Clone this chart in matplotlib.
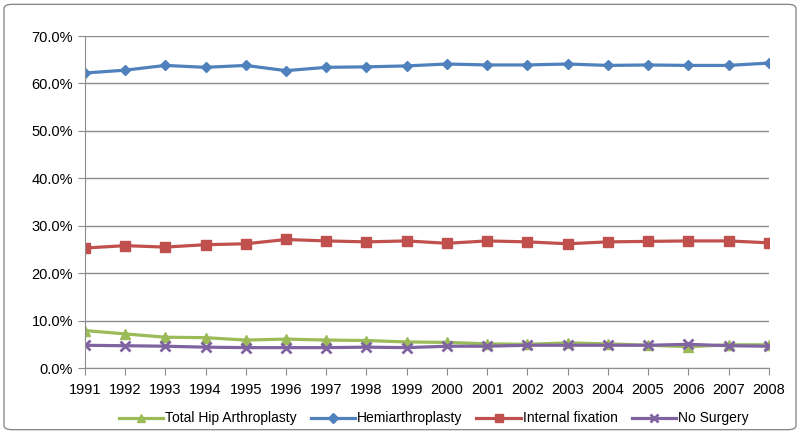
"""
Hip fracture treatment share by year, 1991-2008.
"""

import numpy as np
import matplotlib
matplotlib.use("Agg")
import matplotlib.pyplot as plt
from matplotlib.patches import FancyBboxPatch
from matplotlib.ticker import FuncFormatter

years = list(range(1991, 2009))
tha = [7.9, 7.2, 6.5, 6.4, 5.9, 6.1, 5.9, 5.8, 5.5, 5.4, 5.1, 5.0, 5.3, 5.1, 4.8, 4.5, 4.9, 4.9]
hemi = [62.2, 62.8, 63.8, 63.4, 63.8, 62.7, 63.4, 63.5, 63.7, 64.1, 63.9, 63.9, 64.1, 63.8, 63.9, 63.8, 63.8, 64.3]
fixation = [25.3, 25.8, 25.5, 26.0, 26.2, 27.1, 26.8, 26.6, 26.8, 26.3, 26.8, 26.6, 26.2, 26.6, 26.7, 26.8, 26.8, 26.4]
no_surgery = [4.8, 4.7, 4.6, 4.4, 4.3, 4.3, 4.3, 4.4, 4.3, 4.6, 4.6, 4.8, 4.8, 4.8, 4.8, 5.0, 4.7, 4.6]

plt.rcParams["font.family"] = ["Liberation Sans Narrow", "Liberation Sans", "DejaVu Sans"]

fig = plt.figure(figsize=(8, 4.34), dpi=100)
ax = fig.add_axes([0.106, 0.152, 0.855, 0.765])

x = np.arange(len(years))
series = [
    ("Total Hip Arthroplasty", tha, "#9BBB59", "^", 6.5),
    ("Hemiarthroplasty", hemi, "#4F81BD", "D", 5.5),
    ("Internal fixation", fixation, "#C0504D", "s", 6.5),
    ("No Surgery", no_surgery, "#8064A2", "x", 7),
]
for label, vals, color, marker, ms in series:
    ax.plot(x, vals, color=color, lw=2.3, marker=marker, ms=ms,
            mew=2 if marker == "x" else 1, label=label)

ax.set_xlim(0, len(years) - 1)
ax.set_ylim(0, 70)
ax.set_yticks(np.arange(0, 71, 10))
ax.yaxis.set_major_formatter(FuncFormatter(lambda v, _: f"{v:.1f}%"))
ax.set_xticks(x)
ax.set_xticklabels([str(y) for y in years])
ax.grid(axis="y", color="#8c8c8c", lw=1)
ax.set_axisbelow(True)
for side in ("top", "right"):
    ax.spines[side].set_visible(False)
for side in ("left", "bottom"):
    ax.spines[side].set_color("#8c8c8c")
ax.tick_params(axis="both", colors="#8c8c8c", labelcolor="black", labelsize=10.5, length=5)
ax.tick_params(axis="x", pad=6)

ax.legend(loc="upper center", bbox_to_anchor=(0.51, -0.093), ncol=4, frameon=False,
          fontsize=10, handlelength=3.2, columnspacing=1.0, handletextpad=0.15,
          markerscale=0.85)

fig.patches.append(FancyBboxPatch((0.005, 0.01), 0.99, 0.98, boxstyle="round,pad=0,rounding_size=0.01",
                                  transform=fig.transFigure, fill=False, ec="#8c8c8c", lw=1))

fig.savefig("out.png", dpi=100)
